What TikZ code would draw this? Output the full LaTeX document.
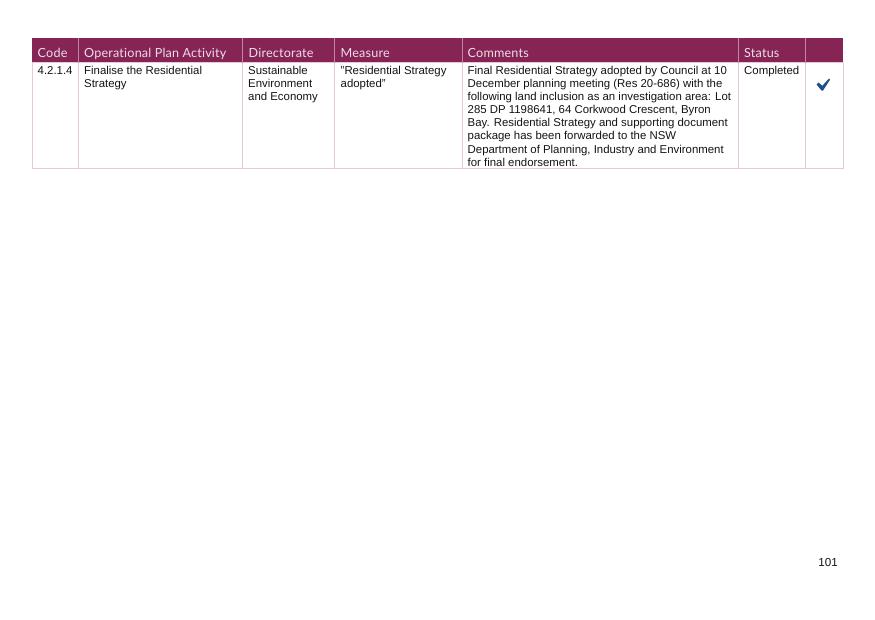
\documentclass[tikz,border=0pt]{standalone}
\usepackage{fontspec}
\setmainfont{Liberation Sans}
\newfontfamily\headfont[LetterSpace=1.5,Ligatures=NoCommon]{Lato}
\definecolor{plumhead}{HTML}{862456}
\definecolor{plumrule}{HTML}{E8C8D8}
\definecolor{tickblue}{HTML}{1F4E8C}
\tikzset{
  headtext/.style={anchor=base west,inner sep=0pt,text=white!85!plumhead,font=\headfont\fontsize{12.6}{13}\selectfont},
  celltext/.style={anchor=north west,inner sep=0pt,align=left,text=black!92,font=\fontsize{11.4}{13.1}\selectfont},
}
\begin{document}
\begin{tikzpicture}[x=1pt,y=-1pt]
\useasboundingbox(0,0)rectangle(875,619);
\fill[white](0,0)rectangle(875,619);

\fill[plumhead](32,37.5)rectangle(843,62.5);
\draw[plumrule,line width=0.9pt](32,62.5)rectangle(843,168);
\foreach \colx in {78.3,242.3,334.3,462.3,738.3,805}{
  \draw[plumrule,line width=0.9pt](\colx,62.5)--(\colx,168);
  \draw[plumrule!60!plumhead,line width=0.6pt](\colx,37.5)--(\colx,62.5);
}

\node[headtext] (codehead) at (37.5,57.5) {Code};
\node[headtext] (planhead) at (84,57.5) {Operational Plan Activity};
\node[headtext] (dirhead) at (248.5,57.5) {Directorate};
\node[headtext] (meashead) at (340.5,57.5) {Measure};
\node[headtext] (commhead) at (467.5,57.5) {Comments};
\node[headtext] (stathead) at (744,57.5) {Status};

\node[celltext] (code) at (37.5,66) {4.2.1.4};
\node[celltext] (plan) at (84,66) {Finalise the Residential\\Strategy};
\node[celltext] (dir) at (248,66) {Sustainable\\Environment\\and Economy};
\node[celltext] (meas) at (340.5,66) {"Residential Strategy\\adopted"};
\node[celltext] (comm) at (467.5,66) {Final Residential Strategy adopted by Council at 10\\December planning meeting (Res 20-686) with the\\following land inclusion as an investigation area: Lot\\285 DP 1198641, 64 Corkwood Crescent, Byron\\Bay. Residential Strategy and supporting document\\package has been forwarded to the NSW\\Department of Planning, Industry and Environment\\for final endorsement.};
\node[celltext] (stat) at (744,66) {Completed};

\fill[tickblue](816.5,84.5)--(818.5,82.5)--(822.3,85.8)--(829,78.5)--(830,79.8)--(823,90.5)--(821.5,90.5)--cycle;

\node[anchor=base east,inner sep=0pt,text=black!92,font=\fontsize{11.6}{13}\selectfont] (pagenum) at (838,566.5) {101};

\end{tikzpicture}
\end{document}
